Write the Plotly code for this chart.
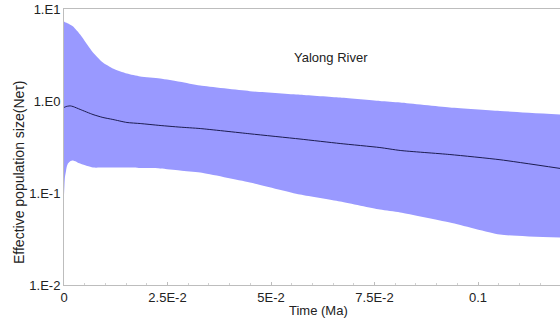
import plotly.graph_objects as go

# Time (Ma)
time_ma = [0, 0.00024, 0.0005, 0.0007, 0.001, 0.0015, 0.0022, 0.0039, 0.007, 0.0094,
           0.0118, 0.0152, 0.0184, 0.0232, 0.028, 0.0329, 0.0449, 0.057, 0.0667,
           0.0763, 0.0812, 0.0932, 0.1053, 0.1198]

# Upper 95% HPD
upper = [7.31, 7.2, 7.13, 7.05, 6.96, 6.75, 6.45, 5.28, 3.37, 2.62,
         2.26, 1.99, 1.85, 1.76, 1.62, 1.47, 1.28, 1.17, 1.09,
         1.0, 0.963, 0.85, 0.78, 0.713]

# Median
median = [0.85, 0.86, 0.87, 0.875, 0.88, 0.885, 0.87, 0.81, 0.713, 0.662,
          0.63, 0.584, 0.569, 0.542, 0.52, 0.502, 0.44, 0.386, 0.345,
          0.312, 0.29, 0.262, 0.23, 0.185]

# Lower 95% HPD
lower = [0.095, 0.15, 0.175, 0.195, 0.21, 0.222, 0.226, 0.209, 0.189, 0.189,
         0.189, 0.189, 0.187, 0.185, 0.176, 0.167, 0.13, 0.0963, 0.0809,
         0.066, 0.0614, 0.0478, 0.0354, 0.0328]

x_tickvals = [0, 0.025, 0.05, 0.075, 0.1]
x_ticktext = ["0", "2.5E-2", "5E-2", "7.5E-2", "0.1"]
y_tickvals = [0.01, 0.1, 1, 10]
y_ticktext = ["1.E-2", "1.E-1", "1.E0", "1.E1"]

FONT = "Arial, Liberation Sans, sans-serif"
fill_color = "rgb(153,153,255)"

fig = go.Figure()
fig.add_trace(go.Scatter(x=time_ma, y=lower, mode="lines", line=dict(width=0, color=fill_color, shape="spline", smoothing=0.6),
                         hoverinfo="skip", showlegend=False))
fig.add_trace(go.Scatter(x=time_ma, y=upper, mode="lines", line=dict(width=0, color=fill_color, shape="spline", smoothing=0.6),
                         fill="tonexty", fillcolor=fill_color, showlegend=False))
fig.add_trace(go.Scatter(x=time_ma, y=median, mode="lines", line=dict(width=1, color="#1c1c50", shape="spline", smoothing=0.6),
                         showlegend=False))

fig.update_layout(
    template="none",
    width=560, height=326,
    margin=dict(l=64, r=0, t=9, b=41, pad=0),
    paper_bgcolor="white", plot_bgcolor="white",
    font=dict(family=FONT, size=13, color="#222"),
    xaxis=dict(range=[0, 0.1198], tickvals=x_tickvals, ticktext=x_ticktext, automargin=False,
               showgrid=False, zeroline=False, showline=True, linecolor="#bdbdbd", linewidth=1,
               mirror=True, ticks="inside", ticklen=3, tickcolor="#bdbdbd",
               minor=dict(dtick=0.005, ticks="inside", ticklen=2, tickcolor="#d0d0d0"),
               tickfont=dict(size=13, color="#222")),
    yaxis=dict(type="log", range=[-2, 1], tickvals=y_tickvals, ticktext=y_ticktext, automargin=False,
               showgrid=False, zeroline=False, showline=True, linecolor="#bdbdbd", linewidth=1,
               ticks="", ticklabelstandoff=0, tickfont=dict(size=13, color="#222")),
    annotations=[
        dict(text="Yalong River", xref="paper", yref="paper", x=(331 - 64) / 496, y=(285 - 57) / 276,
             showarrow=False, font=dict(size=13, color="#222"), xanchor="center", yanchor="middle"),
        dict(text="Time (Ma)", xref="paper", yref="paper", x=(318 - 64) / 496, y=(285 - 310) / 276,
             showarrow=False, font=dict(size=13, color="#222"), xanchor="center", yanchor="middle"),
        dict(text="Effective population size(Neτ)", xref="paper", yref="paper",
             x=(19 - 64) / 496, y=(285 - 173) / 276, textangle=-90, showarrow=False,
             font=dict(size=14, color="#222"), xanchor="center", yanchor="middle"),
    ],
)

fig.write_html("out.html", config={"displayModeBar": False},
               post_script="document.body.style.margin='0';document.body.style.overflow='hidden';")
